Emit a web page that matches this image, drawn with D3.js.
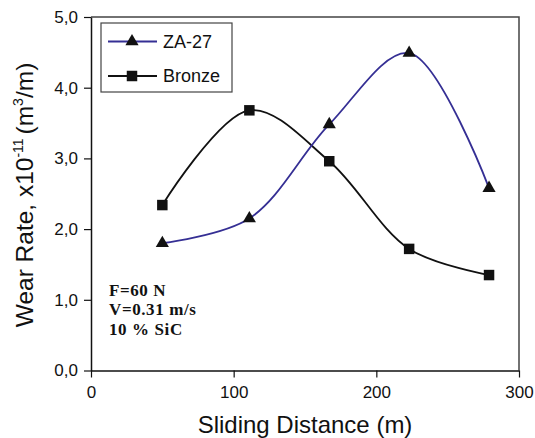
<!DOCTYPE html>
<html>
<head>
<meta charset="utf-8">
<script src="https://cdn.jsdelivr.net/npm/d3@7"></script>
<style>
  body { margin: 0; background: #fff; }
  svg text { font-family: "Liberation Sans", Arial, sans-serif; fill: #111; }
</style>
</head>
<body>
<div id="chart"></div>
<script>
// values
const distance = [50, 111, 167, 223, 279];
const za27 = [1.80, 2.15, 3.48, 4.49, 2.58];
const bronze = [2.34, 3.68, 2.96, 1.72, 1.35];
const xTicks = [0, 100, 200, 300];
const yTicks = [0, 1, 2, 3, 4, 5];
const notes = ['F=60 N', 'V=0.31 m/s', '10 % SiC'];

const W = 535, H = 438;
const margin = { top: 17, right: 16, bottom: 67.5, left: 91 };
const width = W - margin.left - margin.right;
const height = H - margin.top - margin.bottom;

const svg = d3.select('#chart').append('svg')
    .attr('width', W)
    .attr('height', H);

const g = svg.append('g')
    .attr('transform', `translate(${margin.left},${margin.top})`);

const x = d3.scaleLinear().domain([0, 300]).range([0, width]);
const y = d3.scaleLinear().domain([0, 5]).range([height, 0]);

// top / right frame
g.append('path')
    .attr('d', `M0,0H${width}V${height}`)
    .attr('fill', 'none')
    .attr('stroke', '#444')
    .attr('stroke-width', 1.5);

// axes
const xAxis = g.append('g')
    .attr('transform', `translate(0,${height})`)
    .call(d3.axisBottom(x).tickValues(xTicks).tickSize(7).tickPadding(8.5).tickSizeOuter(0));
const yAxis = g.append('g')
    .call(d3.axisLeft(y).tickValues(yTicks).tickSize(7).tickPadding(6).tickSizeOuter(0)
        .tickFormat(d => d3.format('.1f')(d).replace('.', ',')));

[xAxis, yAxis].forEach(a => {
    a.select('.domain').attr('stroke', '#111').attr('stroke-width', 1.5);
    a.selectAll('.tick line').attr('stroke', '#111').attr('stroke-width', 1.2);
    a.selectAll('text')
        .style('font-family', '"Liberation Sans", Arial, sans-serif')
        .style('font-size', '17px')
        .attr('fill', '#111');
});

// curves
const line = d3.line()
    .x((d, i) => x(distance[i]))
    .y(d => y(d))
    .curve(d3.curveCatmullRom.alpha(0.5));

g.append('path')
    .datum(bronze)
    .attr('fill', 'none')
    .attr('stroke', '#111')
    .attr('stroke-width', 1.8)
    .attr('d', line);

g.append('path')
    .datum(za27)
    .attr('fill', 'none')
    .attr('stroke', '#352f94')
    .attr('stroke-width', 1.8)
    .attr('d', line);

const tri = d3.symbol().type(d3.symbolTriangle).size(75);
const sq = d3.symbol().type(d3.symbolSquare).size(110);

g.selectAll('.tri')
    .data(za27)
    .enter().append('path')
    .attr('class', 'tri')
    .attr('transform', (d, i) => `translate(${x(distance[i])},${y(d)})`)
    .attr('d', tri)
    .attr('fill', '#111');

g.selectAll('.sq')
    .data(bronze)
    .enter().append('path')
    .attr('class', 'sq')
    .attr('transform', (d, i) => `translate(${x(distance[i])},${y(d)})`)
    .attr('d', sq)
    .attr('fill', '#111');

// legend
const legend = svg.append('g').attr('transform', 'translate(101,23)');
legend.append('rect')
    .attr('width', 131)
    .attr('height', 69)
    .attr('fill', '#fff')
    .attr('stroke', '#444')
    .attr('stroke-width', 1.2);

const items = [
    { name: 'ZA-27', color: '#352f94', sym: tri, y: 18.5 },
    { name: 'Bronze', color: '#111', sym: sq, y: 53 }
];
items.forEach(it => {
    legend.append('line')
        .attr('x1', 7).attr('x2', 56)
        .attr('y1', it.y).attr('y2', it.y)
        .attr('stroke', it.color)
        .attr('stroke-width', 1.8);
    legend.append('path')
        .attr('transform', `translate(31,${it.y})`)
        .attr('d', it.sym)
        .attr('fill', '#111');
    legend.append('text')
        .attr('x', 62)
        .attr('y', it.y)
        .attr('dy', '0.35em')
        .style('font-size', '18px')
        .text(it.name);
});

// test conditions
svg.append('g')
    .selectAll('text')
    .data(notes)
    .enter().append('text')
    .attr('x', 109)
    .attr('y', (d, i) => 296 + i * 19.3)
    .style('font-family', '"Liberation Serif", "Times New Roman", serif')
    .style('font-weight', 'bold')
    .style('font-size', '17px')
    .style('letter-spacing', '0.6px')
    .text(d => d);

// axis titles
svg.append('text')
    .attr('x', margin.left + x(150))
    .attr('y', 433)
    .attr('text-anchor', 'middle')
    .style('font-size', '24px')
    .text('Sliding Distance (m)');

const yt = svg.append('text')
    .attr('transform', `translate(33,195) rotate(-90)`)
    .attr('text-anchor', 'middle')
    .style('font-size', '24.5px');
yt.append('tspan').text('Wear Rate, x10');
yt.append('tspan').attr('dy', -10).style('font-size', '14px').text('-11 ');
yt.append('tspan').attr('dy', 10).text('(m');
yt.append('tspan').attr('dy', -10).style('font-size', '14px').text('3');
yt.append('tspan').attr('dy', 10).text('/m)');
</script>
</body>
</html>
